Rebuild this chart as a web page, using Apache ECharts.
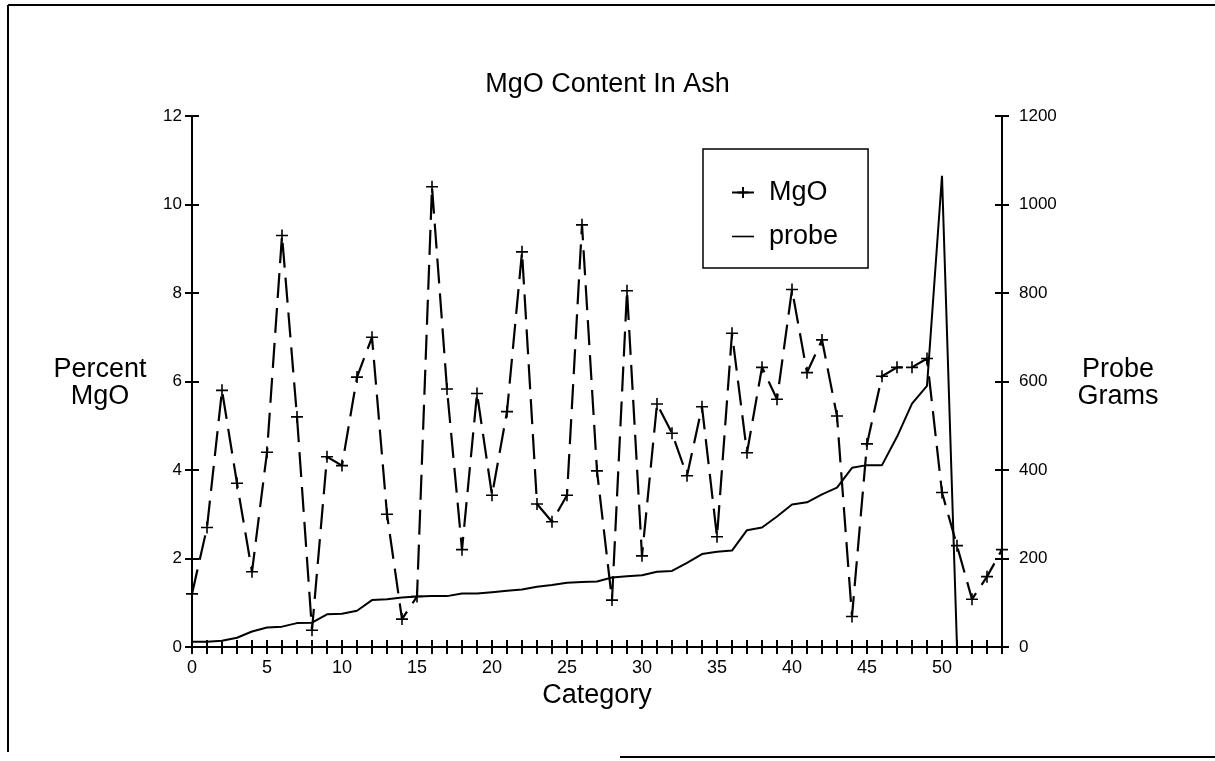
<!DOCTYPE html>
<html>
<head>
<meta charset="utf-8">
<script src="https://cdn.jsdelivr.net/npm/echarts@6/dist/echarts.min.js"></script>
<style>
html,body{margin:0;padding:0;background:#fff;}
#chart{width:1215px;height:761px;}
</style>
</head>
<body>
<div id="chart"></div>
<script>
const categories = [0,1,2,3,4,5,6,7,8,9,10,11,12,13,14,15,16,17,18,19,20,21,22,23,24,25,26,27,28,29,30,31,32,33,34,35,36,37,38,39,40,41,42,43,44,45,46,47,48,49,50,51,52,53,54];
const mgo = [1.2,2.7,5.8,3.7,1.7,4.4,9.3,5.2,0.38,4.3,4.1,6.1,7.0,3.0,0.63,1.14,10.4,5.83,2.2,5.73,3.43,5.32,8.93,3.23,2.83,3.43,9.54,3.98,1.06,8.05,2.06,5.49,4.83,3.87,5.43,2.49,7.09,4.39,6.32,5.6,8.08,6.2,6.94,5.22,0.69,4.59,6.12,6.32,6.32,6.52,3.49,2.29,1.08,1.59,2.2];
const probe = [12,12,14,21,35,44,46,54,55,74,75,82,106,108,112,114,115,115,121,121,124,127,130,136,140,145,147,148,157,160,162,170,172,190,210,215,218,264,270,295,322,327,345,360,405,411,411,475,550,590,1065,0,null,null,null];
const leftTicks = {min:0, max:12, interval:2};
const rightTicks = {min:0, max:1200, interval:200};

const FONT = 'Liberation Sans';
const chart = echarts.init(document.getElementById('chart'));
const plus = 'path://M0,-10L0,10M-10,0L10,0';
const dashIcon = 'path://M0,0M0,14M0,6.2L22,6.2L22,7.8L0,7.8Z';
const lineSt = {color:'#000', width:2};

chart.setOption({
  animation:false,
  backgroundColor:'#fff',
  textStyle:{fontFamily:FONT, color:'#000'},
  title:{text:'MgO Content In Ash', left:'center', top:66, textStyle:{fontFamily:FONT, fontSize:27, fontWeight:'normal', color:'#000'}},
  grid:{left:192, right:213, top:116, bottom:114},
  legend:{
    left:703, top:149, orient:'vertical',
    borderColor:'#000', borderWidth:1.5,
    padding:[30,30,18,28], itemGap:17, itemWidth:22, itemHeight:14,
    textStyle:{fontFamily:FONT, fontSize:27, color:'#000', padding:[0,0,0,10]},
    data:[{name:'MgO'},{name:'probe', icon:dashIcon}]
  },
  xAxis:[{
    type:'value', min:0, max:54, interval:1,
    name:'Category', nameLocation:'middle', nameGap:35,
    nameTextStyle:{fontFamily:FONT, fontSize:27, color:'#000'},
    axisLine:{lineStyle:lineSt},
    axisTick:{length:7, lineStyle:lineSt},
    axisLabel:{fontFamily:FONT, fontSize:18, color:'#000', margin:12, formatter:v=> (v%5===0 && v<=50) ? String(v) : ''},
    splitLine:{show:false}
  },{
    type:'value', min:0, max:54, interval:1, position:'bottom',
    axisLine:{show:false}, axisTick:{inside:true, length:7, lineStyle:lineSt},
    axisLabel:{show:false}, splitLine:{show:false}
  }],
  yAxis:[{
    type:'value', position:'left', min:leftTicks.min, max:leftTicks.max, interval:leftTicks.interval,
    axisLine:{show:true, lineStyle:lineSt},
    axisTick:{show:true, length:7, lineStyle:lineSt},
    axisLabel:{fontFamily:FONT, fontSize:17, color:'#000', margin:10, formatter:v=>String(v)},
    splitLine:{show:false}
  },{
    type:'value', position:'left', min:leftTicks.min, max:leftTicks.max, interval:leftTicks.interval,
    axisLine:{show:false}, axisTick:{show:true, inside:true, length:7, lineStyle:lineSt},
    axisLabel:{show:false}, splitLine:{show:false}
  },{
    type:'value', position:'right', min:rightTicks.min, max:rightTicks.max, interval:rightTicks.interval,
    axisLine:{show:true, lineStyle:lineSt},
    axisTick:{show:true, length:7, lineStyle:lineSt},
    axisLabel:{fontFamily:FONT, fontSize:17, color:'#000', margin:17, formatter:v=>String(v)},
    splitLine:{show:false}
  },{
    type:'value', position:'right', min:rightTicks.min, max:rightTicks.max, interval:rightTicks.interval,
    axisLine:{show:false}, axisTick:{show:true, inside:true, length:7, lineStyle:lineSt},
    axisLabel:{show:false}, splitLine:{show:false}
  }],
  series:[{
    name:'MgO', type:'line', xAxisIndex:0, yAxisIndex:0,
    data: categories.map((c,i)=>[c, mgo[i]]),
    symbol: plus, symbolSize:12, showSymbol:true,
    itemStyle:{color:'#000', borderColor:'#000', borderWidth:1.6},
    lineStyle:{color:'#000', width:2.2, type:[25,10]},
    z:3
  },{
    name:'probe', type:'line', xAxisIndex:0, yAxisIndex:2,
    data: categories.map((c,i)=>[c, probe[i]]),
    symbol:'none', connectNulls:false,
    itemStyle:{color:'#000'},
    lineStyle:{color:'#000', width:2},
    z:2
  }],
  graphic:[
    {type:'text', x:100, y:383, style:{text:'Percent\nMgO', font:'27px "Liberation Sans"', fill:'#000', align:'center', verticalAlign:'middle', lineHeight:27}},
    {type:'text', x:1118, y:383, style:{text:'Probe\nGrams', font:'27px "Liberation Sans"', fill:'#000', align:'center', verticalAlign:'middle', lineHeight:27}},
    {type:'line', shape:{x1:8,y1:5,x2:1215,y2:5}, style:{stroke:'#000', lineWidth:2}},
    {type:'line', shape:{x1:8,y1:5,x2:8,y2:752}, style:{stroke:'#000', lineWidth:2}},
    {type:'line', shape:{x1:620,y1:757,x2:1215,y2:757}, style:{stroke:'#000', lineWidth:2}}
  ]
});
</script>
</body>
</html>
